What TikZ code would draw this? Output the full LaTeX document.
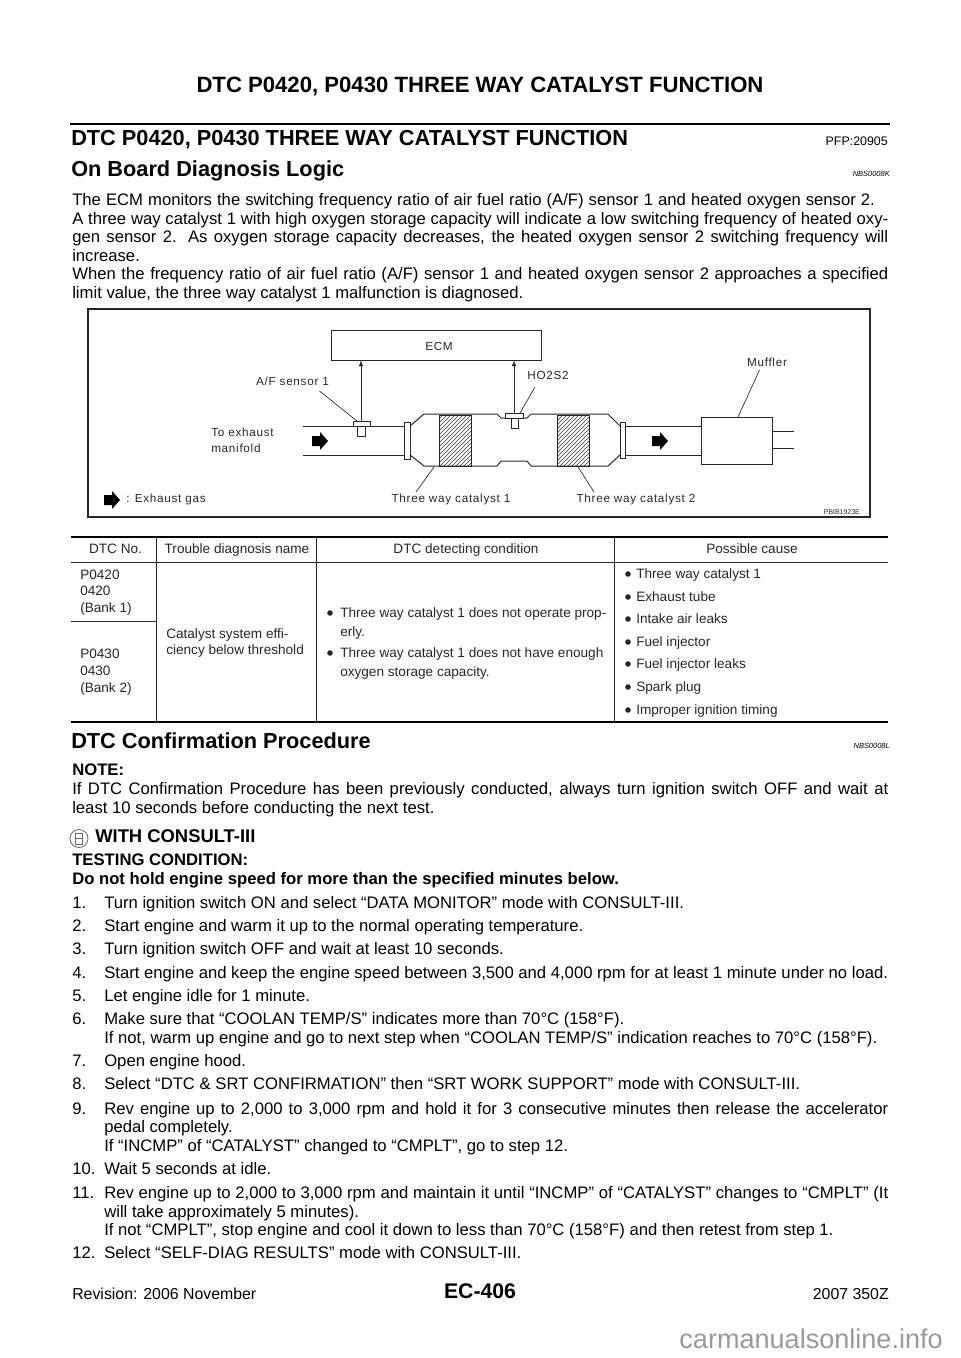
\documentclass[tikz,border=0pt]{standalone}
\usepackage{fontspec}
\setmainfont{Liberation Sans}
\usetikzlibrary{patterns}
\newcommand{\fitfull}[1]{\makebox[612pt][s]{#1}}
\newcommand{\fitstep}[1]{\makebox[588pt][s]{#1}}
\tikzset{
    pagetext/.style={anchor=base west, inner sep=0pt, font=\fontsize{12.5}{14}\selectfont},
    pagebold/.style={pagetext, font=\fontsize{12.5}{14}\selectfont\bfseries},
    headbold/.style={anchor=base west, inner sep=0pt, font=\fontsize{16.3}{18}\selectfont\bfseries},
    codetext/.style={anchor=base east, inner sep=0pt, font=\fontsize{5.6}{7}\selectfont\itshape},
    figlabel/.style={inner sep=0pt, font=\fontsize{8.8}{10}\selectfont\addfontfeatures{LetterSpace=6}, text=black!85},
    tabletext/.style={anchor=base west, inner sep=0pt, font=\fontsize{10.2}{12}\selectfont, text=black!85},
    tablehead/.style={anchor=base, inner sep=0pt, font=\fontsize{10.2}{12}\selectfont, text=black!85},
    partline/.style={black!85, line width=0.75pt},
    thinline/.style={black!85, line width=0.5pt},
    hatched/.style={pattern=north east lines, pattern color=black!80},
    thickrule/.style={black, line width=1.6pt},
    flowarrow/.style={fill=black, draw=none}
}
\begin{document}
\begin{tikzpicture}[x=0.75pt,y=-0.75pt]
    \useasboundingbox (0,0) rectangle (960,1358);

    % page head
    \node[headbold, anchor=base, font=\fontsize{16.6}{18}\selectfont\bfseries] (pagehead) at (480,93) {DTC P0420, P0430 THREE WAY CATALYST FUNCTION};
    \draw[thickrule] (70,124) -- (890,124);
    \node[headbold] (title) at (71,146) {DTC P0420, P0430 THREE WAY CATALYST FUNCTION};
    \node[anchor=base east, inner sep=0pt, font=\fontsize{9.3}{10}\selectfont] (pfp) at (888,146) {PFP:20905};
    \node[headbold] (obd) at (71,176.5) {On Board Diagnosis Logic};
    \node[codetext] (obdcode) at (890,176.5) {NBS0008K};

    % intro
    \node[pagetext] (intro1) at (72,205.7) {\makebox[602pt][s]{The ECM monitors the switching frequency ratio of air fuel ratio (A/F) sensor 1 and heated oxygen sensor 2.}};
    \node[pagetext] (intro2) at (72,224.3) {\fitfull{A three way catalyst 1 with high oxygen storage capacity will indicate a low switching frequency of heated oxy-}};
    \node[pagetext] (intro3) at (72,243) {\fitfull{gen sensor 2. As oxygen storage capacity decreases, the heated oxygen sensor 2 switching frequency will}};
    \node[pagetext] (intro4) at (72,261.5) {increase.};
    \node[pagetext] (intro5) at (72,280) {\fitfull{When the frequency ratio of air fuel ratio (A/F) sensor 1 and heated oxygen sensor 2 approaches a specified}};
    \node[pagetext] (intro6) at (72,298.5) {limit value, the three way catalyst 1 malfunction is diagnosed.};

    % figure
    \draw[black!85, line width=1.2pt] (88,309) rectangle (870,517);
    \node[draw, thinline, minimum width=157.5pt, minimum height=22.5pt, inner sep=0pt] (ecm) at (436,345) {};
    \node[figlabel] (ecmlabel) at (439,346) {ECM};
    \coordinate (afcaptop) at (361,421);
    \coordinate (hocaptop) at (514,413);
    \draw[thinline, -latex] (afcaptop) -- (ecm.south -| afcaptop);
    \draw[thinline, -latex] (hocaptop) -- (ecm.south -| hocaptop);
    \draw[partline, fill=white] (353,421) rectangle (370,426);
    \draw[partline, fill=white] (357,426) rectangle (365,436);
    \draw[partline] (303,426) -- (353,426);
    \draw[partline] (370,426) -- (404,426);
    \draw[partline] (303,455) -- (404,455);
    \draw[partline] (404,422) rectangle (410,459);
    % catalyst shell
    \draw[partline] (410,426) -- (424,414) -- (497,414) -- (501,418) -- (505,418);
    \draw[partline] (524,418) -- (527,418) -- (531,414) -- (608,414) -- (620,426);
    \draw[partline] (410,455) -- (424,466) -- (497,466) -- (501,461) -- (527,461) -- (531,466) -- (608,466) -- (620,455);
    \draw[partline, fill=white] (505,413) rectangle (523.5,418);
    \draw[partline, fill=white] (511,418) rectangle (518,428);
    \draw[thinline, hatched] (439,415) rectangle (471,466);
    \draw[thinline, hatched] (557,415) rectangle (589,466);
    \draw[partline] (620,422) rectangle (625,458);
    \draw[partline] (625,426) -- (701.5,426);
    \draw[partline] (625,455) -- (701.5,455);
    % muffler
    \draw[partline] (701.5,417) rectangle (772,464);
    \draw[partline] (772,431) -- (794,431);
    \draw[partline] (772,448) -- (794,448);
    % flow arrows
    \foreach \x/\y in {312/441, 652/441, 104/500}
        \fill[flowarrow] (\x,\y-5) -- (\x+8,\y-5) -- (\x+8,\y-9) -- (\x+16,\y) -- (\x+8,\y+9) -- (\x+8,\y+5) -- (\x,\y+5) -- cycle;
    % labels and leaders
    \node[figlabel] (aflabel) at (292.5,381) {A/F sensor 1};
    \node[figlabel] (holabel) at (548,375) {HO2S2};
    \node[figlabel] (mufflabel) at (767,362) {Muffler};
    \node[figlabel, anchor=west] (manifold1) at (211,432) {To exhaust};
    \node[figlabel, anchor=west] (manifold2) at (211,448) {manifold};
    \node[figlabel] (cat1label) at (451,499) {Three way catalyst 1};
    \node[figlabel] (cat2label) at (636,499) {Three way catalyst 2};
    \node[figlabel, anchor=west] (gaslabel) at (126,499) {: Exhaust gas};
    \node[inner sep=0pt, anchor=base east, font=\fontsize{5.2}{7}\selectfont, text=black!85] (pbib) at (860,514) {PBIB1923E};
    \coordinate (afstart) at (319.5,391);
    \coordinate (afend) at (357,421);
    \coordinate (hostart) at (535,387);
    \coordinate (hoend) at (520,413);
    \coordinate (muffstart) at (759.5,370);
    \coordinate (muffend) at (738,417);
    \coordinate (cat1start) at (416,492);
    \coordinate (cat1end) at (434,467);
    \coordinate (cat2start) at (594,492);
    \coordinate (cat2end) at (578,467);
    \draw[thinline] (afstart) -- (afend);
    \draw[thinline] (hostart) -- (hoend);
    \draw[thinline] (muffstart) -- (muffend);
    \draw[thinline] (cat1start) -- (cat1end);
    \draw[thinline] (cat2start) -- (cat2end);

    % table
    \draw[thickrule] (71,537) -- (888,537);
    \draw[thinline] (71,562) -- (888,562);
    \draw[thickrule] (71,722) -- (888,722);
    \draw[thinline] (156,537) -- (156,722);
    \draw[thinline] (316,537) -- (316,722);
    \draw[thinline] (614,537) -- (614,722);
    \draw[thinline] (71,621) -- (156,621);
    \node[tablehead] (th1) at (115.5,553) {DTC No.};
    \node[tablehead] (th2) at (237,553) {Trouble diagnosis name};
    \node[tablehead] (th3) at (466,553) {DTC detecting condition};
    \node[tablehead] (th4) at (752,553) {Possible cause};
    \node[tabletext] (bank1a) at (80,579) {P0420};
    \node[tabletext] (bank1b) at (80,595.5) {0420};
    \node[tabletext] (bank1c) at (80,612) {(Bank 1)};
    \node[tabletext] (bank2a) at (80,658.5) {P0430};
    \node[tabletext] (bank2b) at (80,675) {0430};
    \node[tabletext] (bank2c) at (80,692) {(Bank 2)};
    \node[tabletext] (diag1) at (166,638.5) {Catalyst system effi-};
    \node[tabletext] (diag2) at (166,654.5) {ciency below threshold};
    \node[tabletext] (cond1) at (340,617.5) {Three way catalyst 1 does not operate prop-};
    \node[tabletext] (cond2) at (340,636) {erly.};
    \node[tabletext] (cond3) at (340,657.5) {Three way catalyst 1 does not have enough};
    \node[tabletext] (cond4) at (340,676) {oxygen storage capacity.};
    \node[tabletext] (cause1) at (636,578.5) {Three way catalyst 1};
    \node[tabletext] (cause2) at (636,601) {Exhaust tube};
    \node[tabletext] (cause3) at (636,623.5) {Intake air leaks};
    \node[tabletext] (cause4) at (636,646) {Fuel injector};
    \node[tabletext] (cause5) at (636,668.5) {Fuel injector leaks};
    \node[tabletext] (cause6) at (636,691) {Spark plug};
    \node[tabletext] (cause7) at (636,714) {Improper ignition timing};
    \foreach \y in {613,653}
        \fill[black!85] (330,\y) circle (2.8);
    \foreach \y in {574,597,619,642,664,687,710}
        \fill[black!85] (628,\y) circle (2.8);

    % confirmation
    \node[headbold] (confirm) at (71,748) {DTC Confirmation Procedure};
    \node[codetext] (confirmcode) at (890,748) {NBS0008L};
    \node[pagebold] (note) at (72,775.7) {NOTE:};
    \node[pagetext] (note1) at (72,794.3) {\fitfull{If DTC Confirmation Procedure has been previously conducted, always turn ignition switch OFF and wait at}};
    \node[pagetext] (note2) at (72,813) {least 10 seconds before conducting the next test.};
    \draw[black!60, line width=0.6pt] (79,838.5) circle (9);
    \draw[black!60, line width=0.6pt] (75.5,833) rectangle (82.5,844);
    \draw[black!60, line width=0.6pt] (75.5,838.5) -- (82.5,838.5);
    \node[pagebold, font=\fontsize{13.8}{16}\selectfont\bfseries] (consult) at (95,842.5) {WITH CONSULT-III};
    \node[pagebold] (testing) at (72,865.7) {TESTING CONDITION:};
    \node[pagebold] (holdspeed) at (72,884.3) {Do not hold engine speed for more than the specified minutes below.};

    % steps
    \node[pagetext] (n1) at (72,908.2) {1.};
    \node[pagetext] (s1) at (104,908.2) {Turn ignition switch ON and select “DATA MONITOR” mode with CONSULT-III.};
    \node[pagetext] (n2) at (72,931.5) {2.};
    \node[pagetext] (s2) at (104,931.5) {Start engine and warm it up to the normal operating temperature.};
    \node[pagetext] (n3) at (72,954.8) {3.};
    \node[pagetext] (s3) at (104,954.8) {Turn ignition switch OFF and wait at least 10 seconds.};
    \node[pagetext] (n4) at (72,978.1) {4.};
    \node[pagetext] (s4) at (104,978.1) {Start engine and keep the engine speed between 3,500 and 4,000 rpm for at least 1 minute under no load.};
    \node[pagetext] (n5) at (72,1001.4) {5.};
    \node[pagetext] (s5) at (104,1001.4) {Let engine idle for 1 minute.};
    \node[pagetext] (n6) at (72,1024.7) {6.};
    \node[pagetext] (s6) at (104,1024.7) {Make sure that “COOLAN TEMP/S” indicates more than 70°C (158°F).};
    \node[pagetext] (s6b) at (104,1043.3) {If not, warm up engine and go to next step when “COOLAN TEMP/S” indication reaches to 70°C (158°F).};
    \node[pagetext] (n7) at (72,1066.6) {7.};
    \node[pagetext] (s7) at (104,1066.6) {Open engine hood.};
    \node[pagetext] (n8) at (72,1089.9) {8.};
    \node[pagetext] (s8) at (104,1089.9) {Select “DTC \& SRT CONFIRMATION” then “SRT WORK SUPPORT” mode with CONSULT-III.};
    \node[pagetext] (n9) at (72,1114) {9.};
    \node[pagetext] (s9) at (104,1114) {\fitstep{Rev engine up to 2,000 to 3,000 rpm and hold it for 3 consecutive minutes then release the accelerator}};
    \node[pagetext] (s9b) at (104,1132.7) {pedal completely.};
    \node[pagetext] (s9c) at (104,1151.5) {If “INCMP” of “CATALYST” changed to “CMPLT”, go to step 12.};
    \node[pagetext] (n10) at (72,1174.7) {10.};
    \node[pagetext] (s10) at (104,1174.7) {Wait 5 seconds at idle.};
    \node[pagetext] (n11) at (72,1198.4) {11.};
    \node[pagetext] (s11) at (104,1198.4) {\fitstep{Rev engine up to 2,000 to 3,000 rpm and maintain it until “INCMP” of “CATALYST” changes to “CMPLT” (It}};
    \node[pagetext] (s11b) at (104,1217) {will take approximately 5 minutes).};
    \node[pagetext] (s11c) at (104,1235.6) {If not “CMPLT”, stop engine and cool it down to less than 70°C (158°F) and then retest from step 1.};
    \node[pagetext] (n12) at (72,1258.5) {12.};
    \node[pagetext] (s12) at (104,1258.5) {Select “SELF-DIAG RESULTS” mode with CONSULT-III.};

    % foot
    \node[anchor=base west, inner sep=0pt, font=\fontsize{11.9}{14}\selectfont] (revision) at (72,1299.3) {Revision: 2006 November};
    \node[anchor=base, inner sep=0pt, font=\fontsize{15.9}{18}\selectfont\bfseries] (pageno) at (480,1298) {EC-406};
    \node[anchor=base east, inner sep=0pt, font=\fontsize{11.9}{14}\selectfont] (model) at (889,1299.3) {2007 350Z};
    \node[anchor=base east, inner sep=0pt, font=\fontsize{20.3}{24}\selectfont, text=black!40] (site) at (943,1348) {carmanualsonline.info};
\end{tikzpicture}
\end{document}
